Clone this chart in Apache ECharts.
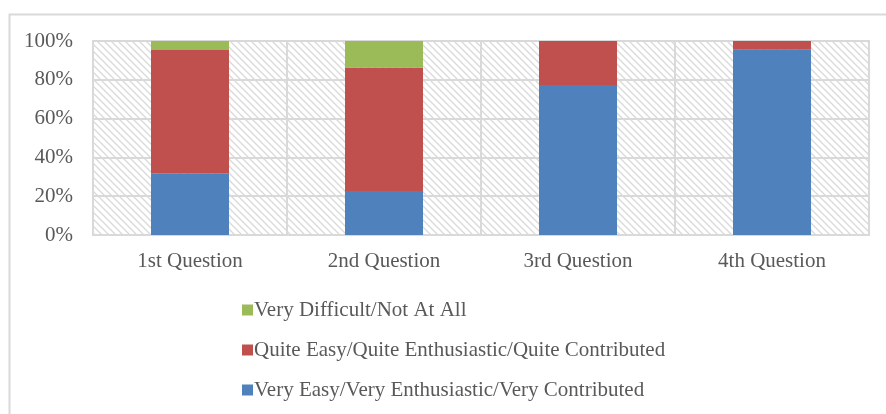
<!DOCTYPE html>
<html>
<head>
<meta charset="utf-8">
<script src="https://cdn.jsdelivr.net/npm/echarts@6/dist/echarts.min.js"></script>
<style>
html,body{margin:0;padding:0;background:#fff;}
#chart{width:886px;height:414px;}
</style>
</head>
<body>
<div id="chart"></div>
<script>
var categories = ['1st Question', '2nd Question', '3rd Question', '4th Question'];
var veryEasy = [31.8, 22.7, 77.3, 95.5];
var quiteEasy = [63.6, 63.6, 22.7, 4.5];
var veryDifficult = [4.6, 13.7, 0, 0];
var seriesNames = [
  'Very Easy/Very Enthusiastic/Very Contributed',
  'Quite Easy/Quite Enthusiastic/Quite Contributed',
  'Very Difficult/Not At All'
];
var yTicks = [0, 20, 40, 60, 80, 100];

function makePattern() {
  var s = 7;
  var c = document.createElement('canvas');
  c.width = s; c.height = s;
  var ctx = c.getContext('2d');
  ctx.fillStyle = '#ffffff';
  ctx.fillRect(0, 0, s, s);
  ctx.strokeStyle = '#d9d9d9';
  ctx.lineWidth = 1.3;
  ctx.beginPath();
  ctx.moveTo(-1, -1); ctx.lineTo(s + 1, s + 1);
  ctx.moveTo(-1, s - 1); ctx.lineTo(1, s + 1);
  ctx.moveTo(s - 1, -1); ctx.lineTo(s + 1, 1);
  ctx.stroke();
  return c;
}

var font = 'Liberation Serif';
var txt = '#595959';
var chart = echarts.init(document.getElementById('chart'), null, {renderer: 'canvas'});
chart.setOption({
  animation: false,
  backgroundColor: '#ffffff',
  graphic: [{
    type: 'rect', left: 7, top: 12, z: -10,
    shape: {width: 1000, height: 1000},
    style: {fill: 'none', stroke: '#d9d9d9', lineWidth: 2}
  }],
  grid: {
    left: 93, right: 17, top: 41, bottom: 179,
    show: true,
    backgroundColor: {image: makePattern(), repeat: 'repeat'},
    borderColor: '#d9d9d9', borderWidth: 2
  },
  legend: {
    orient: 'vertical',
    left: 237, top: 294,
    itemWidth: 11, itemHeight: 11, itemGap: 18,
    icon: 'rect',
    data: [seriesNames[2], seriesNames[1], seriesNames[0]],
    textStyle: {fontFamily: font, fontSize: 21, lineHeight: 22, color: txt, padding: [0, 0, 0, -4]}
  },
  xAxis: {
    type: 'category',
    data: categories,
    axisLine: {show: true, lineStyle: {color: '#d9d9d9', width: 2}},
    axisTick: {show: false},
    splitLine: {show: true, lineStyle: {color: '#d9d9d9', width: 2}},
    axisLabel: {fontFamily: font, fontSize: 21, color: txt, margin: 16}
  },
  yAxis: {
    type: 'value',
    min: yTicks[0], max: yTicks[yTicks.length - 1], interval: 20,
    axisLine: {show: false},
    axisTick: {show: false},
    splitLine: {show: true, lineStyle: {color: '#d9d9d9', width: 2}},
    axisLabel: {fontFamily: font, fontSize: 21, color: txt, margin: 20, formatter: '{value}%'}
  },
  series: [
    {name: seriesNames[0], type: 'bar', stack: 'a', data: veryEasy, barWidth: 78, itemStyle: {color: '#4f81bd'}},
    {name: seriesNames[1], type: 'bar', stack: 'a', data: quiteEasy, barWidth: 78, itemStyle: {color: '#c0504d'}},
    {name: seriesNames[2], type: 'bar', stack: 'a', data: veryDifficult, barWidth: 78, itemStyle: {color: '#9bbb59'}}
  ]
});
</script>
</body>
</html>
